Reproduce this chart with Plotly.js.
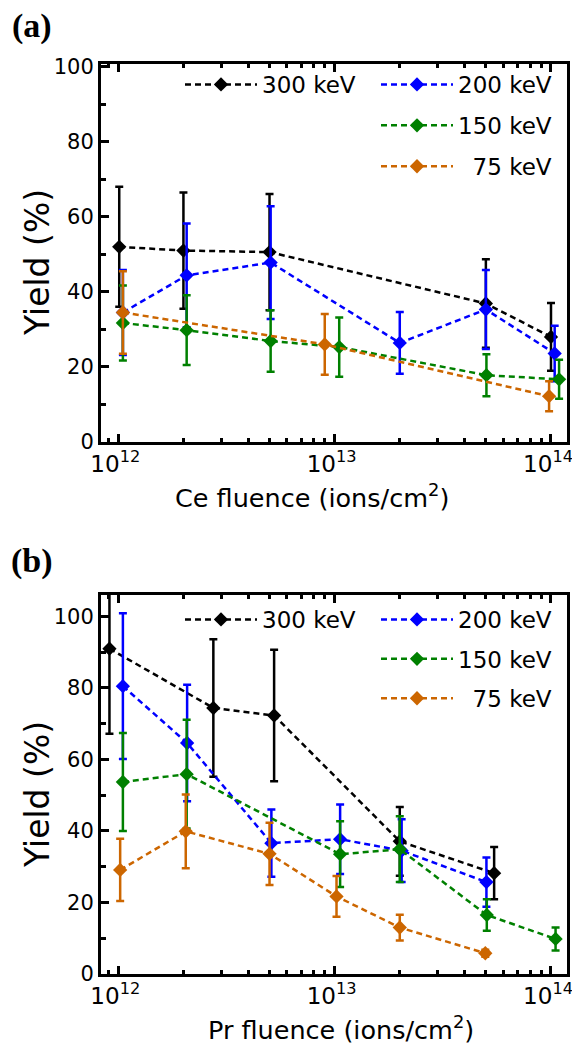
<!DOCTYPE html>
<html>
<head>
<meta charset="utf-8">
<script src="https://cdn.plot.ly/plotly-3.0.1.min.js"></script>
<style>html,body{margin:0;padding:0;background:#fff;}#chart{width:572px;height:1045px;}</style>
</head>
<body>
<div id="chart"></div>
<script>
// ---- Data: panel (a) Ce fluence ----
var seriesNames = ['300 keV', '200 keV', '150 keV', '\u00a0\u00a075 keV'];
var seriesColors = ['#000000', '#0000ff', '#008000', '#cc6600'];

var ceX300 = [1.01e12, 2.0e12, 5.0e12, 5.0e13, 1.0e14];
var ceY300 = [52, 51, 50.6, 36.9, 28];
var ceE300 = [16, 15.5, 15.5, 11.8, 9];

var ceX200 = [1.05e12, 2.07e12, 5.06e12, 2.0e13, 5.0e13, 1.04e14];
var ceY200 = [34.5, 44.4, 47.8, 26.4, 35.3, 23.6];
var ceE200 = [11.3, 13.8, 15, 8.2, 10.5, 7.4];

var ceX150 = [1.05e12, 2.07e12, 5.06e12, 1.05e13, 5.03e13, 1.09e14];
var ceY150 = [31.7, 29.8, 26.9, 25.3, 17.8, 16.7];
var ceE150 = [10, 9.3, 8.2, 7.9, 5.6, 5.2];

var ceX75 = [1.05e12, 9.0e12, 0.98e14];
var ceY75 = [34.5, 26, 12.2];
var ceE75 = [11, 8.1, 4];

// ---- Data: panel (b) Pr fluence ----
var prX300 = [9.1e11, 2.75e12, 5.25e12, 2.0e13, 5.46e13];
var prY300 = [91, 74.4, 72.3, 37.1, 28.2];
var prE300 = [23.8, 19.2, 18.4, 9.6, 7.3];

var prX200 = [1.05e12, 2.08e12, 5.1e12, 1.06e13, 2.04e13, 5.03e13];
var prY200 = [80.5, 64.6, 36.6, 37.7, 34.5, 25.7];
var prE200 = [20.4, 16.3, 9.4, 9.7, 8.8, 6.9];

var prX150 = [1.05e12, 2.07e12, 1.06e13, 2.0e13, 5.05e13, 1.05e14];
var prY150 = [53.7, 55.9, 33.5, 34.9, 16.5, 9.8];
var prE150 = [13.7, 15.2, 9.2, 9.2, 4.4, 3.2];

var prX75 = [1.02e12, 2.05e12, 5.0e12, 1.02e13, 2.0e13, 4.97e13];
var prY75 = [29.1, 39.9, 33.6, 21.7, 13, 5.8];
var prE75 = [8.7, 10.3, 8.7, 5.7, 3.6, 1];

var xTitleA = 'Ce fluence (ions/cm<sup>2</sup>)';
var xTitleB = 'Pr fluence (ions/cm<sup>2</sup>)';
var yTitle = 'Yield (%)';
var panelLabels = ['<b>(a)</b>', '<b>(b)</b>'];

// ---- Build traces ----
function mk(x, y, e, idx, xa, ya, leg, grp) {
  return {
    type: 'scatter', mode: 'lines+markers',
    x: x, y: y, xaxis: xa, yaxis: ya,
    name: seriesNames[idx], legend: leg, legendgroup: grp,
    line: {color: seriesColors[idx], width: 2.5, dash: '6px,4px'},
    marker: {symbol: 'diamond', size: 11, color: seriesColors[idx]},
    error_y: {type: 'data', array: e, visible: true, color: seriesColors[idx], thickness: 2.5, width: 4}
  };
}

var traces = [
  mk(ceX300, ceY300, ceE300, 0, 'x', 'y', 'legend', 'a300'),
  mk(ceX200, ceY200, ceE200, 1, 'x', 'y', 'legend2', 'a200'),
  mk(ceX150, ceY150, ceE150, 2, 'x', 'y', 'legend2', 'a150'),
  mk(ceX75, ceY75, ceE75, 3, 'x', 'y', 'legend2', 'a75'),
  mk(prX300, prY300, prE300, 0, 'x2', 'y2', 'legend3', 'b300'),
  mk(prX200, prY200, prE200, 1, 'x2', 'y2', 'legend4', 'b200'),
  mk(prX150, prY150, prE150, 2, 'x2', 'y2', 'legend4', 'b150'),
  mk(prX75, prY75, prE75, 3, 'x2', 'y2', 'legend4', 'b75')
];

var W = 572, H = 1045;
function px(v) { return v / W; }
function py(v) { return 1 - v / H; }

var xTickFont = {family: 'DejaVu Sans', size: 18.5, color: '#000'};
var yTickFont = {family: 'DejaVu Sans', size: 21, color: '#000'};

function xax(anchor) {
  return {
    type: 'log', domain: [px(101), px(567)], anchor: anchor,
    range: [11.92, 14.074], dtick: 1, exponentformat: 'power', showexponent: 'all',
    ticklabeloverflow: 'allow', ticklabelshift: -3,
    ticks: 'inside', ticklen: 8, tickwidth: 3, tickcolor: '#000',
    minor: {ticks: 'inside', ticklen: 4, tickwidth: 3, tickcolor: '#000', dtick: 'D1'},
    showline: true, linewidth: 3, linecolor: '#000', mirror: 'ticks',
    showgrid: false, zeroline: false,
    tickfont: xTickFont
  };
}
function yax(domain, range, anchor) {
  return {
    domain: domain, anchor: anchor, range: range,
    dtick: 20, tick0: 0,
    ticks: 'inside', ticklen: 8, tickwidth: 3, tickcolor: '#000',
    minor: {ticks: 'inside', ticklen: 5, tickwidth: 3, tickcolor: '#000', dtick: 10},
    showline: true, linewidth: 3, linecolor: '#000', mirror: true,
    showgrid: false, zeroline: false,
    tickfont: yTickFont
  };
}

var legFont = {family: 'DejaVu Sans', size: 23, color: '#000'};
function leg(x, ytop, gap) {
  return {x: px(x), y: py(ytop), xanchor: 'left', yanchor: 'top',
    bgcolor: 'rgba(0,0,0,0)', borderwidth: 0, font: legFont, itemwidth: 72,
    tracegroupgap: gap, traceorder: 'grouped'};
}

var xTitleFont = {family: 'DejaVu Sans', size: 25.5, color: '#000'};
var yTitleFont = {family: 'DejaVu Sans', size: 33, color: '#000'};
var labelFont = {family: 'Liberation Serif', size: 34, color: '#000'};

function ann(text, x, y, font, rot) {
  return {text: text, xref: 'paper', yref: 'paper', x: px(x), y: py(y),
    xanchor: 'center', yanchor: 'middle', showarrow: false, font: font, textangle: rot || 0};
}

var layout = {
  width: W, height: H,
  margin: {l: 0, r: 0, t: 0, b: 0},
  paper_bgcolor: '#fff', plot_bgcolor: '#fff',
  showlegend: true,
  xaxis: xax('y'),
  yaxis: yax([py(442), py(64)], [0, 100.7], 'x'),
  xaxis2: xax('y2'),
  yaxis2: yax([py(974), py(595)], [0, 106], 'x2'),
  legend: leg(180, 63, 8),
  legend2: leg(376, 63, 8),
  legend3: leg(180, 598, 6.5),
  legend4: leg(376, 598, 6.5),
  annotations: [
    ann(panelLabels[0], 32, 26, labelFont),
    ann(panelLabels[1], 32, 561, labelFont),
    ann(xTitleA, 312, 496, xTitleFont),
    ann(xTitleB, 341, 1028, xTitleFont),
    ann(yTitle, 37, 263, yTitleFont, -90),
    ann(yTitle, 37, 795, yTitleFont, -90)
  ]
};

Plotly.newPlot('chart', traces, layout, {staticPlot: true, displayModeBar: false});
</script>
</body>
</html>
